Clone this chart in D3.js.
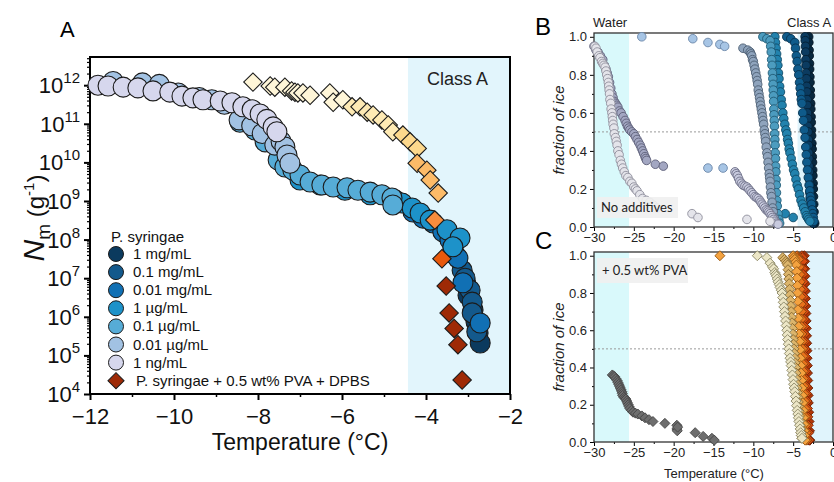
<!DOCTYPE html>
<html>
<head>
<meta charset="utf-8">
<script src="https://cdn.jsdelivr.net/npm/d3@7"></script>
<style>
  body { margin: 0; background: #fff; }
  svg { display: block; font-family: "Liberation Sans", Arial, sans-serif; }
</style>
</head>
<body>
<div id="chart"></div>
<script>
// ---------- panel A data (temperature in °C, Nm in 1/g) ----------
const concLabels = ["1 mg/mL", "0.1 mg/mL", "0.01 mg/mL", "1 µg/mL", "0.1 µg/mL", "0.01 µg/mL", "1 ng/mL"];
const pvaLabel = "P. syringae + 0.5 wt% PVA + DPBS";

const tempA_1mg = [-3.05, -3.0, -2.88, -2.81, -2.76, -2.71];
const nmA_1mg = [7.1e6, 3.6e6, 1.5e6, 7.4e5, 3.8e5, 2.1e5];
const tempA_01mg = [-3.3, -3.14, -3.07, -2.95, -2.9, -2.9, -2.79];
const nmA_01mg = [4.0e7, 1.6e7, 1.0e7, 4.9e6, 2.4e6, 1.26e6, 4.1e5];
const tempA_001mg = [-4.31, -4.07, -3.83, -3.6, -3.43, -3.36, -3.24, -3.12, -2.71];
const nmA_001mg = [5.2e8, 3.6e8, 2.7e8, 1.6e8, 9.8e7, 5.4e7, 3.3e7, 7.6e6, 6.9e5];
const tempA_1ug = [-7.0, -6.52, -5.93, -5.33, -4.74, -4.57, -4.33, -4.14, -3.9, -3.5, -3.19, -3.36];
const nmA_1ug = [3.5e9, 2.6e9, 1.9e9, 1.45e9, 1.07e9, 8.9e8, 6.6e8, 4.9e8, 3.2e8, 1.8e8, 1.1e8, 6.5e7];
const tempA_01ug = [-8.43, -8.07, -7.83, -7.52, -7.36, -7.17, -7.0, -6.76, -6.48, -6.21, -5.88, -5.62, -5.33, -5.05, -4.81, -4.79];
const nmA_01ug = [1.1e11, 6.9e10, 3.4e10, 1.15e10, 7.6e9, 6.3e9, 4.7e9, 3.1e9, 2.6e9, 2.3e9, 2.2e9, 1.9e9, 1.7e9, 1.45e9, 1.2e9, 7.9e8];
const tempA_001ug = [-11.45, -10.75, -10.35, -9.9, -9.4, -9.1, -8.8, -8.45, -8.15, -7.9, -7.6, -7.45, -7.36, -7.31, -7.24];
const nmA_001ug = [1.25e12, 1.15e12, 1.05e12, 6.3e11, 4.8e11, 4.2e11, 3.2e11, 1.26e11, 8.9e10, 5.6e10, 2.8e10, 3.5e10, 2.5e10, 1.55e10, 9.5e9];
const tempA_1ng = [-11.81, -11.57, -11.21, -10.86, -10.5, -10.1, -9.81, -9.55, -9.31, -8.9, -8.62, -8.36, -8.14, -7.95, -7.79, -7.64, -7.55];
const nmA_1ng = [1.0e12, 9.5e11, 8.9e11, 8.5e11, 7.1e11, 6.6e11, 5.2e11, 4.7e11, 4.2e11, 3.9e11, 3.5e11, 2.75e11, 2.3e11, 1.8e11, 1.3e11, 8.3e10, 6.2e10];

// + PVA (diamonds)
const tempD_1mg = [-3.52, -3.45, -3.33, -3.24, -3.14];
const nmD_1mg = [6.3e6, 1.26e6, 5.0e5, 1.9e5, 2.3e4];
const tempD_01mg = [-3.62];
const nmD_01mg = [3.2e7];
const tempD_001mg = [-3.79];
const nmD_001mg = [3.2e8];
const tempD_1ug = [-4.21, -3.98, -3.9, -3.71];
const nmD_1ug = [9.5e9, 6.3e9, 3.5e9, 1.6e9];
const tempD_01ug = [-4.55, -4.38, -4.21];
const nmD_01ug = [5.1e10, 3.4e10, 2.3e10];
const tempD_001ug = [-5.76, -5.57, -5.4, -5.26, -5.05, -4.9, -4.79];
const nmD_001ug = [2.75e11, 2.75e11, 2.0e11, 1.7e11, 1.26e11, 9.3e10, 6.2e10];
const tempD_1ng = [-8.12, -7.71, -7.6, -7.36, -7.2, -7.12, -7.05, -6.93, -6.76, -6.29, -6.21, -5.98];
const nmD_1ng = [1.2e12, 9.5e11, 8.9e11, 8.9e11, 7.1e11, 6.6e11, 6.3e11, 6.3e11, 5.5e11, 6.3e11, 3.6e11, 4.2e11];

const tickExpA = [4, 5, 6, 7, 8, 9, 10, 11, 12];
const tickTempA = [-12, -10, -8, -6, -4, -2];

// ---------- panel B data: fraction of ice, no additives ----------
const tempB_water = [-29.9, -29.75, -29.6, -29.4, -29.25, -29.05, -28.9, -28.75, -28.6, -28.5, -28.4, -28.3, -28.2, -28.15, -28.1, -28.05, -28.0, -27.9, -27.85, -27.75, -27.7, -27.65, -27.6, -27.5, -27.45, -27.3, -27.2, -27.1, -27.0, -26.85, -26.7, -26.55, -26.4, -26.2, -26.0, -25.75, -25.5, -25.25, -25.0, -24.8, -24.6, -24.25, -23.9, -23.45, -23.0, -22.55, -22.1, -17.7, -16.95, -10.8, -7.9];
const fracB_water = [0.95, 0.94, 0.92, 0.90, 0.89, 0.87, 0.86, 0.85, 0.84, 0.82, 0.80, 0.78, 0.76, 0.74, 0.72, 0.70, 0.67, 0.65, 0.62, 0.60, 0.58, 0.56, 0.54, 0.52, 0.49, 0.47, 0.45, 0.43, 0.40, 0.38, 0.35, 0.33, 0.31, 0.29, 0.27, 0.26, 0.24, 0.23, 0.21, 0.20, 0.19, 0.17, 0.15, 0.14, 0.13, 0.115, 0.10, 0.07, 0.05, 0.04, 0.03];
const tempB_gray = [-30.0, -29.75, -29.5, -29.2, -28.9, -28.7, -28.5, -28.35, -28.2, -28.05, -27.9, -27.75, -27.6, -27.45, -27.3, -27.15, -27.0, -26.8, -26.6, -26.35, -26.1, -25.95, -25.8, -25.65, -25.5, -25.25, -25.0, -24.8, -24.6, -24.4, -24.2, -24.05, -23.9, -23.75, -23.6, -23.5, -23.4, -22.3, -21.3];
const fracB_gray = [0.95, 0.93, 0.92, 0.90, 0.88, 0.85, 0.83, 0.81, 0.79, 0.76, 0.73, 0.70, 0.68, 0.66, 0.65, 0.64, 0.63, 0.61, 0.60, 0.58, 0.56, 0.545, 0.53, 0.52, 0.51, 0.50, 0.49, 0.475, 0.46, 0.445, 0.43, 0.415, 0.40, 0.385, 0.37, 0.36, 0.35, 0.33, 0.32];
const tempB_scatter = [-24.0, -17.6, -15.7, -14.2, -13.6, -15.7, -13.8];
const fracB_scatter = [1.0, 0.99, 0.97, 0.96, 0.95, 0.31, 0.31];
const tempB_lilac = [-12.3, -12.15, -12.0, -11.85, -11.7, -11.5, -11.3, -11.05, -10.8, -10.6, -10.4, -10.2, -10.0, -9.8, -9.6, -9.4, -9.2, -9.05, -8.9, -8.72, -8.55, -8.38, -8.2, -8.05, -7.9, -7.75, -7.6, -7.45, -7.3, -7.1, -6.9];
const fracB_lilac = [0.29, 0.28, 0.27, 0.255, 0.24, 0.23, 0.22, 0.215, 0.21, 0.20, 0.19, 0.18, 0.17, 0.16, 0.155, 0.15, 0.14, 0.13, 0.12, 0.11, 0.10, 0.09, 0.085, 0.078, 0.07, 0.06, 0.05, 0.04, 0.03, 0.02, 0.015];
const tempB_steel = [-11.3, -10.7, -10.4, -10.3, -10.2, -10.1, -10.0, -9.9, -9.8, -9.7, -9.6, -9.52, -9.45, -9.38, -9.3, -9.22, -9.15, -9.08, -9.0, -8.92, -8.85, -8.78, -8.7, -8.62, -8.55, -8.5, -8.45, -8.38, -8.3, -8.22, -8.15, -8.08, -8.0, -7.95, -7.9, -7.85, -7.8, -7.72, -7.65, -7.58, -7.5, -7.4, -7.3];
const fracB_steel = [0.94, 0.93, 0.92, 0.91, 0.90, 0.88, 0.87, 0.85, 0.83, 0.81, 0.79, 0.77, 0.75, 0.72, 0.70, 0.68, 0.66, 0.64, 0.62, 0.60, 0.58, 0.56, 0.54, 0.51, 0.49, 0.47, 0.45, 0.42, 0.39, 0.37, 0.34, 0.31, 0.28, 0.26, 0.24, 0.21, 0.18, 0.16, 0.13, 0.10, 0.08, 0.05, 0.03];
const tempB_teal = [-8.8, -8.3, -7.9, -7.82, -7.75, -7.7, -7.65, -7.6, -7.55, -7.52, -7.5, -7.47, -7.45, -7.42, -7.4, -7.37, -7.35, -7.32, -7.3, -7.27, -7.25, -7.22, -7.2, -7.17, -7.15, -7.12, -7.1, -7.05, -7.0, -6.9, -6.8, -6.7];
const fracB_teal = [1.0, 0.99, 0.98, 0.95, 0.92, 0.88, 0.85, 0.81, 0.78, 0.75, 0.72, 0.69, 0.66, 0.62, 0.59, 0.56, 0.53, 0.49, 0.46, 0.43, 0.39, 0.36, 0.32, 0.29, 0.25, 0.22, 0.18, 0.14, 0.11, 0.07, 0.04, 0.02];
const tempB_cerulean = [-7.3, -7.22, -7.15, -7.08, -7.0, -6.92, -6.85, -6.78, -6.7, -6.6, -6.5, -6.4, -6.3, -6.18, -6.05, -5.92, -5.8, -5.7, -5.6, -5.5, -5.4, -5.25, -5.1, -4.95, -4.8, -4.65, -4.5, -4.35, -4.2, -4.02, -3.85, -3.68, -3.5, -3.35, -3.2, -3.05, -2.9, -6.0, -5.0];
const fracB_cerulean = [1.0, 0.97, 0.94, 0.91, 0.88, 0.85, 0.81, 0.78, 0.74, 0.71, 0.67, 0.64, 0.60, 0.57, 0.54, 0.51, 0.49, 0.46, 0.44, 0.41, 0.39, 0.36, 0.33, 0.30, 0.28, 0.25, 0.22, 0.20, 0.17, 0.14, 0.12, 0.10, 0.08, 0.06, 0.05, 0.04, 0.03, 0.07, 0.05];
const tempB_blue = [-5.8, -5.3, -4.8, -4.7, -4.6, -4.5, -4.4, -4.3, -4.2, -4.12, -4.05, -3.98, -3.9, -3.8, -3.7, -3.6, -3.5, -3.42, -3.35, -3.28, -3.2, -3.1, -3.0, -2.92, -2.85, -2.78, -2.7, -2.62, -2.55, -2.47, -2.4];
const fracB_blue = [1.0, 0.99, 0.97, 0.94, 0.90, 0.87, 0.83, 0.80, 0.76, 0.73, 0.70, 0.67, 0.65, 0.60, 0.56, 0.51, 0.47, 0.42, 0.38, 0.34, 0.30, 0.26, 0.22, 0.19, 0.16, 0.14, 0.12, 0.09, 0.07, 0.05, 0.03];
const tempB_navy = [-3.5, -3.48, -3.45, -3.43, -3.4, -3.38, -3.35, -3.33, -3.3, -3.28, -3.25, -3.23, -3.2, -3.18, -3.15, -3.13, -3.1, -3.08, -3.05, -3.03, -3.0, -2.97, -2.95, -2.92, -2.9, -2.85, -2.8, -2.72, -2.65, -2.5];
const fracB_navy = [1.0, 0.98, 0.95, 0.92, 0.88, 0.85, 0.81, 0.78, 0.74, 0.71, 0.67, 0.64, 0.60, 0.57, 0.53, 0.50, 0.46, 0.43, 0.39, 0.36, 0.32, 0.29, 0.25, 0.22, 0.18, 0.15, 0.12, 0.09, 0.06, 0.02];
const tempB_dark = [-3.05, -3.03, -3.0, -2.98, -2.95, -2.93, -2.9, -2.88, -2.85, -2.83, -2.8, -2.78, -2.75, -2.73, -2.7, -2.68, -2.65, -2.62, -2.6, -2.57, -2.55, -2.52, -2.5, -2.47, -2.45, -2.42, -2.38, -2.3];
const fracB_dark = [1.0, 0.97, 0.93, 0.90, 0.86, 0.83, 0.79, 0.76, 0.72, 0.69, 0.65, 0.62, 0.58, 0.55, 0.51, 0.48, 0.44, 0.41, 0.37, 0.34, 0.30, 0.27, 0.23, 0.20, 0.16, 0.12, 0.08, 0.02];

// ---------- panel C data: fraction of ice, + 0.5 wt% PVA ----------
const tempC_water = [-27.7, -27.55, -27.4, -27.25, -27.1, -27.0, -26.9, -26.8, -26.7, -26.6, -26.5, -26.45, -26.4, -26.25, -26.1, -26.0, -25.9, -25.8, -25.7, -25.6, -25.5, -25.3, -25.1, -24.8, -24.5, -24.0, -23.6, -23.1, -22.6, -21.1, -19.6, -19.6, -19.55, -19.5, -17.3, -16.3, -15.2, -14.9];
const fracC_water = [0.36, 0.355, 0.35, 0.34, 0.33, 0.32, 0.31, 0.30, 0.29, 0.28, 0.27, 0.26, 0.25, 0.24, 0.235, 0.23, 0.22, 0.21, 0.20, 0.19, 0.18, 0.17, 0.16, 0.155, 0.15, 0.14, 0.13, 0.12, 0.11, 0.10, 0.09, 0.07, 0.06, 0.08, 0.05, 0.03, 0.02, 0.01];
const tempC_cream = [-9.5, -8.3, -7.9, -7.6, -7.45, -7.3, -7.2, -7.1, -7.0, -6.9, -6.75, -6.65, -6.5, -6.4, -6.32, -6.25, -6.18, -6.1, -6.02, -5.95, -5.88, -5.8, -5.75, -5.7, -5.62, -5.55, -5.48, -5.4, -5.32, -5.25, -5.18, -5.1, -5.02, -4.95, -4.88, -4.8, -4.72, -4.65, -4.58, -4.5, -4.42, -4.35, -4.28, -4.2, -4.12, -4.05, -3.98, -3.9];
const fracC_cream = [1.0, 0.99, 0.96, 0.94, 0.93, 0.91, 0.90, 0.89, 0.875, 0.86, 0.845, 0.83, 0.815, 0.80, 0.775, 0.75, 0.725, 0.70, 0.675, 0.65, 0.625, 0.60, 0.575, 0.55, 0.525, 0.50, 0.475, 0.45, 0.43, 0.41, 0.385, 0.36, 0.335, 0.31, 0.29, 0.27, 0.245, 0.22, 0.195, 0.17, 0.15, 0.13, 0.11, 0.09, 0.07, 0.05, 0.035, 0.02];
const tempC_tan = [-6.3, -6.1, -5.9, -5.8, -5.7, -5.65, -5.6, -5.55, -5.5, -5.45, -5.4, -5.35, -5.3, -5.25, -5.2, -5.15, -5.1, -5.05, -5.0, -4.95, -4.9, -4.85, -4.8, -4.75, -4.7, -4.65, -4.6, -4.55, -4.5, -4.45, -4.4, -4.35, -4.3, -4.25, -4.2, -4.15, -4.1, -4.05, -4.0, -3.95, -3.9];
const fracC_tan = [0.99, 0.98, 0.97, 0.96, 0.95, 0.925, 0.90, 0.875, 0.85, 0.82, 0.79, 0.76, 0.73, 0.70, 0.67, 0.64, 0.61, 0.58, 0.55, 0.525, 0.50, 0.475, 0.45, 0.425, 0.40, 0.37, 0.34, 0.315, 0.29, 0.265, 0.24, 0.215, 0.19, 0.165, 0.14, 0.115, 0.09, 0.07, 0.05, 0.035, 0.02];
const tempC_orange = [-14.2, -5.0, -4.9, -4.8, -4.7, -4.6, -4.55, -4.5, -4.47, -4.45, -4.42, -4.4, -4.35, -4.3, -4.25, -4.2, -4.15, -4.1, -4.05, -4.0, -3.95, -3.9, -3.85, -3.8, -3.75, -3.7, -3.65, -3.6, -3.55, -3.5];
const fracC_orange = [1.0, 1.0, 0.99, 0.98, 0.965, 0.95, 0.915, 0.88, 0.84, 0.80, 0.755, 0.71, 0.665, 0.62, 0.58, 0.54, 0.495, 0.45, 0.41, 0.37, 0.33, 0.29, 0.25, 0.21, 0.17, 0.13, 0.095, 0.06, 0.035, 0.01];
const tempC_dorange = [-4.5, -4.4, -4.3, -4.22, -4.15, -4.12, -4.1, -4.05, -4.0, -3.97, -3.95, -3.92, -3.9, -3.85, -3.8, -3.77, -3.75, -3.72, -3.7, -3.65, -3.6, -3.55, -3.5, -3.45, -3.4, -3.35, -3.3];
const fracC_dorange = [1.0, 0.99, 0.98, 0.94, 0.90, 0.86, 0.82, 0.78, 0.74, 0.70, 0.66, 0.62, 0.58, 0.54, 0.50, 0.46, 0.42, 0.38, 0.34, 0.30, 0.26, 0.22, 0.18, 0.135, 0.09, 0.05, 0.01];
const tempC_redorange = [-3.9, -3.85, -3.8, -3.77, -3.75, -3.72, -3.7, -3.67, -3.65, -3.62, -3.6, -3.57, -3.55, -3.52, -3.5, -3.47, -3.45, -3.42, -3.4, -3.35, -3.3, -3.25, -3.2, -3.15, -3.1, -3.05, -3.0];
const fracC_redorange = [1.0, 0.99, 0.97, 0.93, 0.90, 0.86, 0.82, 0.78, 0.74, 0.70, 0.66, 0.62, 0.58, 0.54, 0.50, 0.46, 0.42, 0.38, 0.34, 0.30, 0.26, 0.22, 0.18, 0.135, 0.09, 0.05, 0.01];
const tempC_red = [-3.6, -3.57, -3.55, -3.52, -3.5, -3.47, -3.45, -3.42, -3.4, -3.37, -3.35, -3.32, -3.3, -3.27, -3.25, -3.22, -3.2, -3.17, -3.15, -3.12, -3.1, -3.05, -3.0, -2.95, -2.9];
const fracC_red = [1.0, 0.97, 0.93, 0.89, 0.85, 0.81, 0.77, 0.73, 0.69, 0.65, 0.61, 0.57, 0.53, 0.49, 0.45, 0.41, 0.37, 0.33, 0.29, 0.25, 0.21, 0.16, 0.11, 0.06, 0.01];

const tickTempB = [-30, -25, -20, -15, -10, -5, 0];
const tickFrac = [0, 0.2, 0.4, 0.6, 0.8, 1.0];

// ---------- drawing ----------
const width = 834, height = 482;
const svg = d3.select("#chart").append("svg")
  .attr("width", width)
  .attr("height", height);

function zip(ts, vs) { return ts.map((t, i) => ({t: t, v: vs[i]})); }

// palettes (dark -> light)
const blues = ["#0b3a5e", "#13598c", "#1170b4", "#1d92c9", "#56acd7", "#a2c2e3", "#d6d7ed"];
const oranges = ["#9e2a06", "#e8590c", "#f98d3d", "#fdbb68", "#fdd88c", "#feeab4", "#fff6d8"];

//---- panel A
const xA = d3.scaleLinear().domain([-12, -2]).range([90, 510]);
const yA = d3.scaleLog().domain([1e4, Math.pow(10, 12.73)]).range([394, 57]);
const gA = svg.append("g");

gA.append("rect")
  .attr("x", xA(-4.43)).attr("y", yA.range()[1])
  .attr("width", xA(-2) - xA(-4.43)).attr("height", yA.range()[0] - yA.range()[1])
  .attr("fill", "#e2f5fc");

gA.append("text").attr("x", 427).attr("y", 85)
  .attr("font-size", 18).attr("fill", "#222").text("Class A");

// minor / major ticks
let minorY = [];
for (let e = 4; e <= 12; e++) for (let m = 2; m <= 9; m++) if (m * Math.pow(10, e) < yA.domain()[1]) minorY.push(m * Math.pow(10, e));

gA.append("g").attr("transform", "translate(90,0)")
  .call(d3.axisLeft(yA).tickValues(minorY).tickSize(3).tickFormat(""))
  .call(g => g.select(".domain").remove())
  .call(g => g.selectAll("line").attr("stroke-width", 1.2));
gA.append("g").attr("transform", "translate(90,0)")
  .call(d3.axisLeft(yA).tickValues(tickExpA.map(e => Math.pow(10, e))).tickSize(6).tickFormat(""))
  .call(g => g.select(".domain").remove())
  .call(g => g.selectAll("line").attr("stroke-width", 2));

const ylab = gA.append("g").selectAll("text").data(tickExpA).join("text")
  .attr("x", 80).attr("y", d => yA(Math.pow(10, d)) + 8)
  .attr("text-anchor", "end").attr("font-size", 22).attr("fill", "#111");
ylab.append("tspan").text("10");
ylab.append("tspan").attr("dy", -10).attr("font-size", 15).text(d => d);

gA.append("g").attr("transform", "translate(0,394)")
  .call(d3.axisBottom(xA).tickValues([-11, -9, -7, -5, -3]).tickSize(3).tickFormat(""))
  .call(g => g.select(".domain").remove())
  .call(g => g.selectAll("line").attr("stroke-width", 1.5));
gA.append("g").attr("transform", "translate(0,394)")
  .call(d3.axisBottom(xA).tickValues(tickTempA).tickSize(6).tickPadding(8).tickFormat(d3.format("d")))
  .call(g => g.select(".domain").remove())
  .call(g => g.selectAll("line").attr("stroke-width", 2))
  .call(g => g.selectAll("text").attr("font-size", 22).attr("fill", "#111")
    .attr("font-family", '"Liberation Sans", Arial, sans-serif'));

gA.append("rect").attr("x", 90).attr("y", 57).attr("width", 420).attr("height", 337)
  .attr("fill", "none").attr("stroke", "#000").attr("stroke-width", 2);

// circles, darkest first
const circleSeries = [
  zip(tempA_1mg, nmA_1mg), zip(tempA_01mg, nmA_01mg), zip(tempA_001mg, nmA_001mg),
  zip(tempA_1ug, nmA_1ug), zip(tempA_01ug, nmA_01ug), zip(tempA_001ug, nmA_001ug),
  zip(tempA_1ng, nmA_1ng)
];
const diamondSeries = [
  zip(tempD_1mg, nmD_1mg), zip(tempD_01mg, nmD_01mg), zip(tempD_001mg, nmD_001mg),
  zip(tempD_1ug, nmD_1ug), zip(tempD_01ug, nmD_01ug), zip(tempD_001ug, nmD_001ug),
  zip(tempD_1ng, nmD_1ng)
];

const dotsA = gA.append("g");
circleSeries.forEach((s, i) => {
  dotsA.append("g").selectAll("circle").data(s).join("circle")
    .attr("cx", d => xA(d.t)).attr("cy", d => yA(d.v)).attr("r", 10)
    .attr("fill", blues[i]).attr("stroke", "#1b1b1b").attr("stroke-width", 1.1);
});
const diamondA = d3.symbol().type(d3.symbolSquare).size(170);
// draw light ones first so the red ones sit on top
diamondSeries.slice().reverse().forEach((s, k) => {
  const i = diamondSeries.length - 1 - k;
  dotsA.append("g").selectAll("path").data(s).join("path")
    .attr("d", diamondA)
    .attr("transform", d => `translate(${xA(d.t)},${yA(d.v)}) rotate(45)`)
    .attr("fill", oranges[i]).attr("stroke", "#1b1b1b").attr("stroke-width", 1.1);
});

// legend
const leg = gA.append("g").attr("font-size", 15).attr("fill", "#111");
leg.append("text").attr("x", 111).attr("y", 242).text("P. syringae");
concLabels.forEach((lab, i) => {
  const y = 254 + i * 18.1;
  leg.append("circle").attr("cx", 116).attr("cy", y).attr("r", 7.5)
    .attr("fill", blues[i]).attr("stroke", "#1b1b1b").attr("stroke-width", 1);
  leg.append("text").attr("x", 133).attr("y", y + 5).text(lab);
});
leg.append("path").attr("d", d3.symbol().type(d3.symbolSquare).size(130))
  .attr("transform", `translate(116,${254 + 7 * 18.1}) rotate(45)`)
  .attr("fill", oranges[0]).attr("stroke", "#1b1b1b").attr("stroke-width", 1);
leg.append("text").attr("x", 136).attr("y", 254 + 7 * 18.1 + 5).text(pvaLabel);

// titles
svg.append("text").attr("x", 60).attr("y", 37).attr("font-size", 22).text("A");
svg.append("text").attr("x", 300).attr("y", 450).attr("text-anchor", "middle")
  .attr("font-size", 23).attr("fill", "#111").text("Temperature (°C)");
const yt = svg.append("text").attr("transform", "translate(44,218) rotate(-90)")
  .attr("text-anchor", "middle").attr("font-size", 24).attr("fill", "#111");
yt.append("tspan").attr("font-style", "italic").attr("font-size", 30).text("N");
yt.append("tspan").attr("font-size", 19).attr("dy", 6).text("m");
yt.append("tspan").attr("dy", -6).text(" (g");
yt.append("tspan").attr("font-size", 15).attr("dy", -10).text("-1");
yt.append("tspan").attr("dy", 10).text(")");

//---- panels B and C
const xB = d3.scaleLinear().domain([-30, 0]).range([594, 833]);
const yB = d3.scaleLinear().domain([0, 1.02]).range([227, 33]);
const yC = d3.scaleLinear().domain([0, 1.02]).range([442, 252]);

function framePanel(y, top, bottom) {
  const g = svg.append("g");
  g.append("rect").attr("x", xB(-30)).attr("y", top).attr("width", xB(-25.6) - xB(-30)).attr("height", bottom - top)
    .attr("fill", "#d9f9fb");
  g.append("rect").attr("x", xB(-4.45)).attr("y", top).attr("width", xB(0) - xB(-4.45)).attr("height", bottom - top)
    .attr("fill", "#e0f4fc");
  g.append("line").attr("x1", xB(-30)).attr("x2", xB(0)).attr("y1", y(0.5)).attr("y2", y(0.5))
    .attr("stroke", "#9a9a9a").attr("stroke-width", 1).attr("stroke-dasharray", "2,2");

  g.append("g").attr("transform", `translate(${xB(-30)},0)`)
    .call(d3.axisLeft(y).tickValues([0.1, 0.3, 0.5, 0.7, 0.9]).tickSize(2).tickFormat(""))
    .call(s => s.select(".domain").remove());
  g.append("g").attr("transform", `translate(${xB(-30)},0)`)
    .call(d3.axisLeft(y).tickValues(tickFrac).tickSize(4).tickPadding(3).tickFormat(d3.format(".1f")))
    .call(s => s.select(".domain").remove())
    .call(s => s.selectAll("text").attr("font-size", 13).attr("fill", "#222")
      .attr("font-family", '"Liberation Sans", Arial, sans-serif'));
  g.append("g").attr("transform", `translate(0,${bottom})`)
    .call(d3.axisBottom(xB).tickValues([-27.5, -22.5, -17.5, -12.5, -7.5, -2.5]).tickSize(2).tickFormat(""))
    .call(s => s.select(".domain").remove());
  g.append("g").attr("transform", `translate(0,${bottom})`)
    .call(d3.axisBottom(xB).tickValues(tickTempB).tickSize(4).tickPadding(2).tickFormat(d3.format("d")))
    .call(s => s.select(".domain").remove())
    .call(s => s.selectAll("text").attr("font-size", 13).attr("fill", "#222")
      .attr("font-family", '"Liberation Sans", Arial, sans-serif'));
  g.append("rect").attr("x", xB(-30)).attr("y", top).attr("width", xB(0) - xB(-30)).attr("height", bottom - top)
    .attr("fill", "none").attr("stroke", "#333").attr("stroke-width", 1.3);

  svg.append("text")
    .attr("transform", `translate(564,${(top + bottom) / 2}) rotate(-90)`)
    .attr("text-anchor", "middle").attr("font-size", 15).attr("font-style", "italic")
    .attr("fill", "#222").text("fraction of ice");
  return g;
}

const gB = framePanel(yB, 33, 227);
const gC = framePanel(yC, 252, 442);

// B circles
const seriesB = [
  {d: zip(tempB_dark, fracB_dark), fill: "#08283f", stroke: "#041522"},
  {d: zip(tempB_navy, fracB_navy), fill: "#0b3b60", stroke: "#051f33"},
  {d: zip(tempB_blue, fracB_blue), fill: "#0f5b8b", stroke: "#08324f"},
  {d: zip(tempB_cerulean, fracB_cerulean), fill: "#2282ad", stroke: "#0e4a66"},
  {d: zip(tempB_teal, fracB_teal), fill: "#4c9cbf", stroke: "#1f5a75"},
  {d: zip(tempB_steel, fracB_steel), fill: "#8fa4bd", stroke: "#4d5f73"},
  {d: zip(tempB_lilac, fracB_lilac), fill: "#c8cade", stroke: "#6e7088"},
  {d: zip(tempB_scatter, fracB_scatter), fill: "#a7c5e5", stroke: "#6a86a8"},
  {d: zip(tempB_gray, fracB_gray), fill: "#a3a7c2", stroke: "#5d6078"},
  {d: zip(tempB_water, fracB_water), fill: "#e4e4ea", stroke: "#8f8f9c"}
];
seriesB.forEach(s => {
  gB.append("g").selectAll("circle").data(s.d).join("circle")
    .attr("cx", d => xB(d.t)).attr("cy", d => yB(d.v)).attr("r", 4.3)
    .attr("fill", s.fill).attr("stroke", s.stroke).attr("stroke-width", 0.9);
});

// C diamonds
const seriesC = [
  {d: zip(tempC_red, fracC_red), fill: "#b23607", stroke: "#6a1f03"},
  {d: zip(tempC_redorange, fracC_redorange), fill: "#d94b10", stroke: "#7a2a08"},
  {d: zip(tempC_dorange, fracC_dorange), fill: "#e9721c", stroke: "#84400e"},
  {d: zip(tempC_orange, fracC_orange), fill: "#f4a23f", stroke: "#9a5a14"},
  {d: zip(tempC_tan, fracC_tan), fill: "#dcb56c", stroke: "#8a6a30"},
  {d: zip(tempC_cream, fracC_cream), fill: "#ece6c6", stroke: "#8f8a6a"},
  {d: zip(tempC_water, fracC_water), fill: "#6e6e6e", stroke: "#474747"}
];
const diamondC = d3.symbol().type(d3.symbolSquare).size(50);
seriesC.forEach(s => {
  gC.append("g").selectAll("path").data(s.d).join("path")
    .attr("d", diamondC)
    .attr("transform", d => `translate(${xB(d.t)},${yC(d.v)}) rotate(45)`)
    .attr("fill", s.fill).attr("stroke", s.stroke).attr("stroke-width", 0.9);
});

// annotation boxes
gB.append("rect").attr("x", 597).attr("y", 197).attr("width", 81).attr("height", 21)
  .attr("fill", "#efefef").attr("opacity", 0.9);
gB.append("text").attr("x", 601).attr("y", 212).attr("font-family", "Lato, sans-serif")
  .attr("font-size", 13).attr("fill", "#222").text("No additives");
gC.append("rect").attr("x", 597).attr("y", 258).attr("width", 91).attr("height", 25)
  .attr("fill", "#efefef").attr("opacity", 0.9);
gC.append("text").attr("x", 602).attr("y", 275).attr("font-family", "Lato, sans-serif")
  .attr("font-size", 13).attr("fill", "#222").text("+ 0.5 wt% PVA");

svg.append("text").attr("x", 535).attr("y", 35).attr("font-size", 24).text("B");
svg.append("text").attr("x", 535).attr("y", 249).attr("font-size", 24).text("C");
svg.append("text").attr("x", 593).attr("y", 27).attr("font-size", 13).attr("fill", "#222").text("Water");
svg.append("text").attr("x", 787).attr("y", 27).attr("font-size", 13).attr("fill", "#222").text("Class A");
svg.append("text").attr("x", 714).attr("y", 478).attr("text-anchor", "middle")
  .attr("font-size", 13).attr("fill", "#222").text("Temperature (°C)");
</script>
</body>
</html>
